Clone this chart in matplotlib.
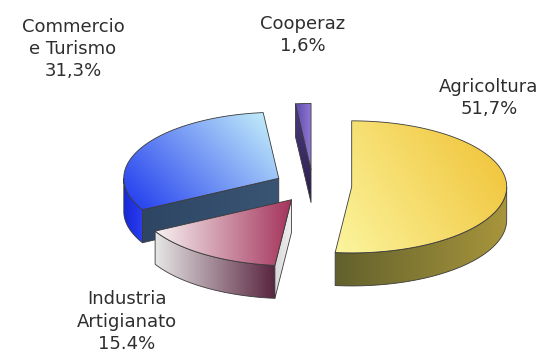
import numpy as np
import matplotlib.pyplot as plt
from matplotlib.patches import Polygon
from matplotlib.colors import to_rgb

sectors = ['Agricoltura', 'Industria\nArtigianato', 'Commercio\ne Turismo', 'Cooperaz']
shares = [51.7, 15.4, 31.3, 1.6]
share_text = ['51,7%', '15.4%', '31,3%', '1,6%']

# (start colour, end colour, gradient direction) for top, outer wall, cut face
top_fill = [('#fbf59e', '#f0c032', (1.0, 0.5)),
            ('#f7f3f3', '#a5345c', (1.0, 0.0)),
            ('#1d38ee', '#cbf6fb', (1.0, 0.6)),
            ('#5e48a8', '#8e78d2', (1.0, 0.0))]
wall_fill = [('#62612c', '#a8953c', (1.0, 0.0)),
             ('#e6e6e6', '#5a2640', (1.0, 0.0)),
             ('#1828d8', '#2a3ef0', (1.0, 0.0)),
             ('#2c2050', '#4a3878', (1.0, 0.0))]
cut_fill = [('#8a7f35', '#8a7f35', (1.0, 0.0)),
            ('#d8d8d8', '#f0f0f0', (1.0, 0.0)),
            ('#2e4664', '#3a5474', (1.0, 0.0)),
            ('#2a1e4a', '#4c3a7e', (0.0, 1.0))]

label_pos = [(1.135, 0.57), (-1.20, -0.875), (-1.548, 0.884), (-0.065, 0.974)]

TILT = 0.426
DEPTH = 0.213
EXPLODE = 0.25
START = 90.0
EDGE = '#3a3a3a'


def grad_poly(ax, verts, fill, z):
    c0, c1, (dx, dy) = fill
    verts = np.asarray(verts)
    poly = Polygon(verts, closed=True, facecolor='none', edgecolor=EDGE,
                   lw=0.6, joinstyle='round', zorder=z + 0.5)
    ax.add_patch(poly)
    x0, y0 = verts.min(axis=0)
    x1, y1 = verts.max(axis=0)
    gx, gy = np.meshgrid(np.linspace(0, 1, 80), np.linspace(0, 1, 80))
    t = gx * dx + gy * dy
    t = (t - t.min()) / max(t.max() - t.min(), 1e-9)
    a, b = np.array(to_rgb(c0)), np.array(to_rgb(c1))
    img = a * (1 - t[..., None]) + b * t[..., None]
    im = ax.imshow(img, extent=(x0, x1, y0, y1), origin='lower',
                   interpolation='bilinear', aspect='auto', zorder=z)
    im.set_clip_path(poly)


def arc(cx, cy, t1, t2, n=200):
    ts = np.radians(np.linspace(t1, t2, n))
    return np.column_stack([cx + np.cos(ts), cy + TILT * np.sin(ts)])


fig = plt.figure(figsize=(5.41, 3.58), dpi=100)
ax = fig.add_axes([0, 0, 1, 1])
ax.axis('off')

# slice angles, going clockwise from 12 o'clock
slices = []
acc = 0.0
for i, v in enumerate(shares):
    th2 = START - acc * 3.6
    th1 = th2 - v * 3.6
    acc += v
    mid = np.radians((th1 + th2) / 2)
    cx = EXPLODE * np.cos(mid)
    cy = EXPLODE * TILT * np.sin(mid)
    slices.append((i, th1, th2, cx, cy))

# back to front
slices.sort(key=lambda s: -s[4])
down = np.array([0, -DEPTH])

for rank, (i, th1, th2, cx, cy) in enumerate(slices):
    z = 10 * rank
    c = np.array([cx, cy])

    # outer wall, only the front half is seen
    ts = np.linspace(th1, th2, 721)
    vis = ts[np.sin(np.radians(ts)) < 1e-9]
    if len(vis) > 1:
        top = arc(cx, cy, vis[0], vis[-1])
        grad_poly(ax, np.vstack([top, top[::-1] + down]), wall_fill[i], z + 1)

    # flat cut faces facing the viewer
    for ang, normal in ((th1, th1 - 90), (th2, th2 + 90)):
        if np.sin(np.radians(normal)) < -1e-6:
            p = c + np.array([np.cos(np.radians(ang)), TILT * np.sin(np.radians(ang))])
            grad_poly(ax, [c, p, p + down, c + down], cut_fill[i], z + 2)

    # top face
    grad_poly(ax, np.vstack([[c], arc(cx, cy, th1, th2)]), top_fill[i], z + 4)

for name, pct, (lx, ly) in zip(sectors, share_text, label_pos):
    ax.text(lx, ly, f'{name}\n{pct}', ha='center', va='center', fontsize=13,
            color='#2e2e2e', linespacing=1.3, family='DejaVu Sans', zorder=100)

ax.set_xlim(-313 / 155, (541 - 313) / 155)
ax.set_ylim(-(358 - 186) / 155, 186 / 155)

fig.savefig('out.png', dpi=100, facecolor='white')
